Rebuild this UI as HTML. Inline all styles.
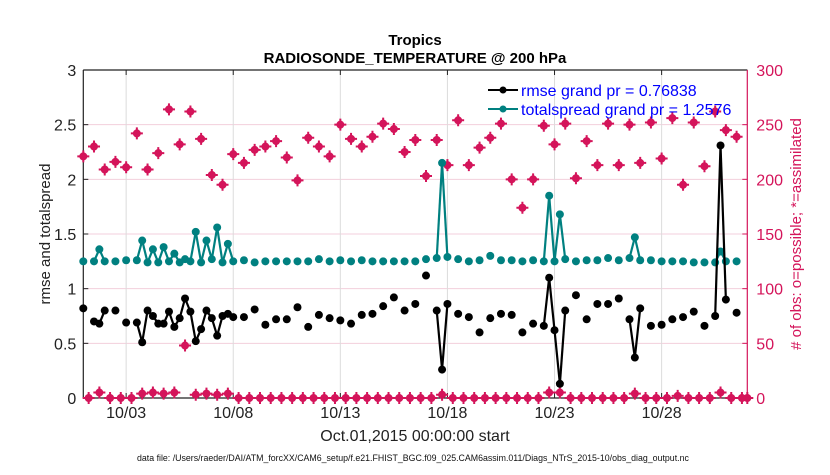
<!DOCTYPE html>
<html><head><meta charset="utf-8"><style>
body{margin:0;background:#fff;width:830px;height:470px;overflow:hidden}
svg{font-family:"Liberation Sans",Arial,sans-serif}
</style></head><body>
<svg id="chart" width="830" height="470" viewBox="0 0 830 470" xmlns="http://www.w3.org/2000/svg">
<g id="grid"></g>
<g id="axes"></g>
<g id="marks"></g>
<text x="415" y="45" text-anchor="middle" font-size="15" font-weight="bold">Tropics</text>
<text x="415" y="63" text-anchor="middle" font-size="15" font-weight="bold">RADIOSONDE_TEMPERATURE @ 200 hPa</text>
<text x="415" y="441" text-anchor="middle" font-size="16" fill="#222">Oct.01,2015 00:00:00 start</text>
<text x="137" y="461" font-size="8.8" fill="#111">data file: /Users/raeder/DAI/ATM_forcXX/CAM6_setup/f.e21.FHIST_BGC.f09_025.CAM6assim.011/Diags_NTrS_2015-10/obs_diag_output.nc</text>
<text transform="translate(50,234) rotate(-90)" text-anchor="middle" font-size="15" fill="#222">rmse and totalspread</text>
<text transform="translate(801,234) rotate(-90)" text-anchor="middle" font-size="15" fill="#d4145a"># of obs: o=possible; *=assimilated</text>
<g>
<line x1="488" y1="90" x2="518" y2="90" stroke="#000" stroke-width="2"/><circle cx="503" cy="90" r="3.5" fill="#000"/>
<text x="521" y="96" font-size="16" fill="#0000ff">rmse grand pr = 0.76838</text>
<line x1="488" y1="109" x2="518" y2="109" stroke="#008080" stroke-width="2"/><circle cx="503" cy="109" r="3.5" fill="#008080"/>
<text x="521" y="115" font-size="16" fill="#0000ff">totalspread grand pr = 1.2576</text>
</g>
</svg>
<script>
const dateTickDays=[2,7,12,17,22,27];
const dateTickLabels=["10/03","10/08","10/13","10/18","10/23","10/28"];
const leftTicks=[0,0.5,1,1.5,2,2.5,3];
const rightTicks=[0,50,100,150,200,250,300];
const mainObsVals=[221,230,209,216,211,242,209,224,264,232,262,237,204,195,223,215,227,230,235,220,199,238,230,221,250,237,230,239,251,246,225,236,203,236,213,254,213,229,238,251,200,174,200,249,232,251,201,235,213,251,213,250,215,252,219,256,195,252,212,262,245,239,0];
const minorObsVals=[0,5,0,0,0,4,5,4,5,48,3,4,3,4,0,0,0,0,0,0,0,0,0,0,0,0,0,0,0,0,0,0,0,3,0,0,0,0,0,0,0,0,0,5,5,0,0,0,0,0,0,4,0,0,0,2,0,0,0,5,0,0];
const statDays=[0,0.5,0.75,1,1.5,2,2.5,2.75,3,3.25,3.5,3.75,4,4.25,4.5,4.75,5,5.25,5.5,5.75,6,6.25,6.5,6.75,7,7.5,8,8.5,9,9.5,10,10.5,11,11.5,12,12.5,13,13.5,14,14.5,15,15.5,16,16.5,16.75,17,17.5,18,18.5,19,19.5,20,20.5,21,21.5,21.75,22,22.25,22.5,23,23.5,24,24.5,25,25.5,25.75,26,26.5,27,27.5,28,28.5,29,29.5,29.75,30,30.5];
const rmseVals=[.82,.70,.68,.80,.80,.69,.69,.51,.80,.75,.68,.68,.79,.65,.73,.91,.79,.52,.63,.80,.73,.57,.75,.77,.74,.74,.81,.67,.72,.72,.83,.65,.76,.73,.71,.68,.76,.77,.84,.92,.80,.86,1.12,.80,.26,.86,.77,.74,.60,.73,.77,.76,.60,.68,.66,1.10,.62,.13,.80,.94,.72,.86,.86,.91,.72,.37,.82,.66,.67,.72,.74,.79,.66,.75,2.31,.90,.78];
const spreadVals=[1.25,1.25,1.36,1.25,1.25,1.26,1.26,1.44,1.24,1.36,1.24,1.38,1.25,1.32,1.24,1.27,1.25,1.52,1.24,1.44,1.27,1.56,1.24,1.41,1.25,1.26,1.24,1.25,1.25,1.25,1.25,1.25,1.27,1.25,1.26,1.25,1.26,1.25,1.25,1.25,1.25,1.25,1.27,1.28,2.15,1.29,1.27,1.25,1.26,1.30,1.26,1.26,1.25,1.26,1.25,1.85,1.25,1.68,1.27,1.25,1.26,1.26,1.28,1.26,1.28,1.47,1.26,1.26,1.25,1.25,1.25,1.24,1.24,1.24,1.34,1.25,1.25];

const X0=83.3,X1=747.3,Y0=398,Y1=70,DMAX=31;
const xs=d=>X0+(X1-X0)*d/DMAX;
const yL=v=>Y0-(Y0-Y1)*v/3;
const yR=v=>Y0-(Y0-Y1)*v/300;
const NS="http://www.w3.org/2000/svg";
const PINK="#d4145a";
function mk(tag,attrs,parent){const e=document.createElementNS(NS,tag);for(const k in attrs)e.setAttribute(k,attrs[k]);parent.appendChild(e);return e;}
const grid=document.getElementById('grid'),axes=document.getElementById('axes'),marks=document.getElementById('marks');

leftTicks.forEach((t,i)=>{
  if(t>0&&t<3){const g=mk('line',{x1:X0,x2:X1,y1:yL(t),y2:yL(t),stroke:'#f3cfdc','stroke-width':1},grid);
  
  }
  const l=mk('text',{x:X0-7,y:yL(t)+6,'text-anchor':'end','font-size':16,fill:'#222'},axes);l.textContent=t;
  
  
  mk('line',{x1:X0,x2:X0+5,y1:yL(t),y2:yL(t),stroke:'#222'},axes);
});
rightTicks.forEach(t=>{
  const l=mk('text',{x:X1+9,y:yR(t)+6,'font-size':16,fill:PINK},axes);l.textContent=t;
  
  
  mk('line',{x1:X1-5,x2:X1,y1:yR(t),y2:yR(t),stroke:PINK},axes);
});
dateTickDays.forEach((d,i)=>{
  const g=mk('line',{x1:xs(d),x2:xs(d),y1:Y1,y2:Y0,stroke:'#dcdcdc','stroke-width':1},grid);
  
  
  mk('line',{x1:xs(d),x2:xs(d),y1:Y0,y2:Y0-5,stroke:'#222'},axes);
  mk('line',{x1:xs(d),x2:xs(d),y1:Y1,y2:Y1+5,stroke:'#222'},axes);
  const l=mk('text',{x:xs(d),y:418,'text-anchor':'middle','font-size':16,fill:'#222'},axes);l.textContent=dateTickLabels[i];
  
  
});
mk('line',{x1:X0,x2:X0,y1:Y1,y2:Y0,stroke:'#222','stroke-width':1.2},axes);
mk('line',{x1:X0,x2:X1,y1:Y0,y2:Y0,stroke:'#222','stroke-width':1.2},axes);
mk('line',{x1:X0,x2:X1,y1:Y1,y2:Y1,stroke:'#222','stroke-width':1.2},axes);
mk('line',{x1:X1,x2:X1,y1:Y1,y2:Y0,stroke:PINK,'stroke-width':1.2},axes);

function series(vals,color,name){
  const g=mk('g',{},marks);
  
  
  for(let i=1;i<statDays.length;i++){
    if(Math.abs(statDays[i]-statDays[i-1]-0.25)<1e-6){
      mk('line',{x1:xs(statDays[i-1]),y1:yL(vals[i-1]),x2:xs(statDays[i]),y2:yL(vals[i]),stroke:color,'stroke-width':2.2},g);
    }
  }
  vals.forEach((v,i)=>{
    const c=mk('circle',{cx:xs(statDays[i]),cy:yL(v),r:4,fill:color},g);
    
    
  });
}
function obsMark(d,v,g){
  const x=xs(d),y=yR(v);
  const p=mk('circle',{cx:x,cy:y,r:4,fill:PINK},g);
  
  
  mk('path',{d:`M${x} ${y-6}V${y+6}M${x-6} ${y}H${x+6}`,stroke:PINK,'stroke-width':2},g);
}
const og=mk('g',{},marks);


mainObsVals.forEach((v,i)=>obsMark(i*0.5,v,og));
minorObsVals.forEach((v,i)=>obsMark(0.25+i*0.5,v,og));
series(spreadVals,'#008080','totalspread');
series(rmseVals,'#000000','rmse');
</script>
</body></html>
